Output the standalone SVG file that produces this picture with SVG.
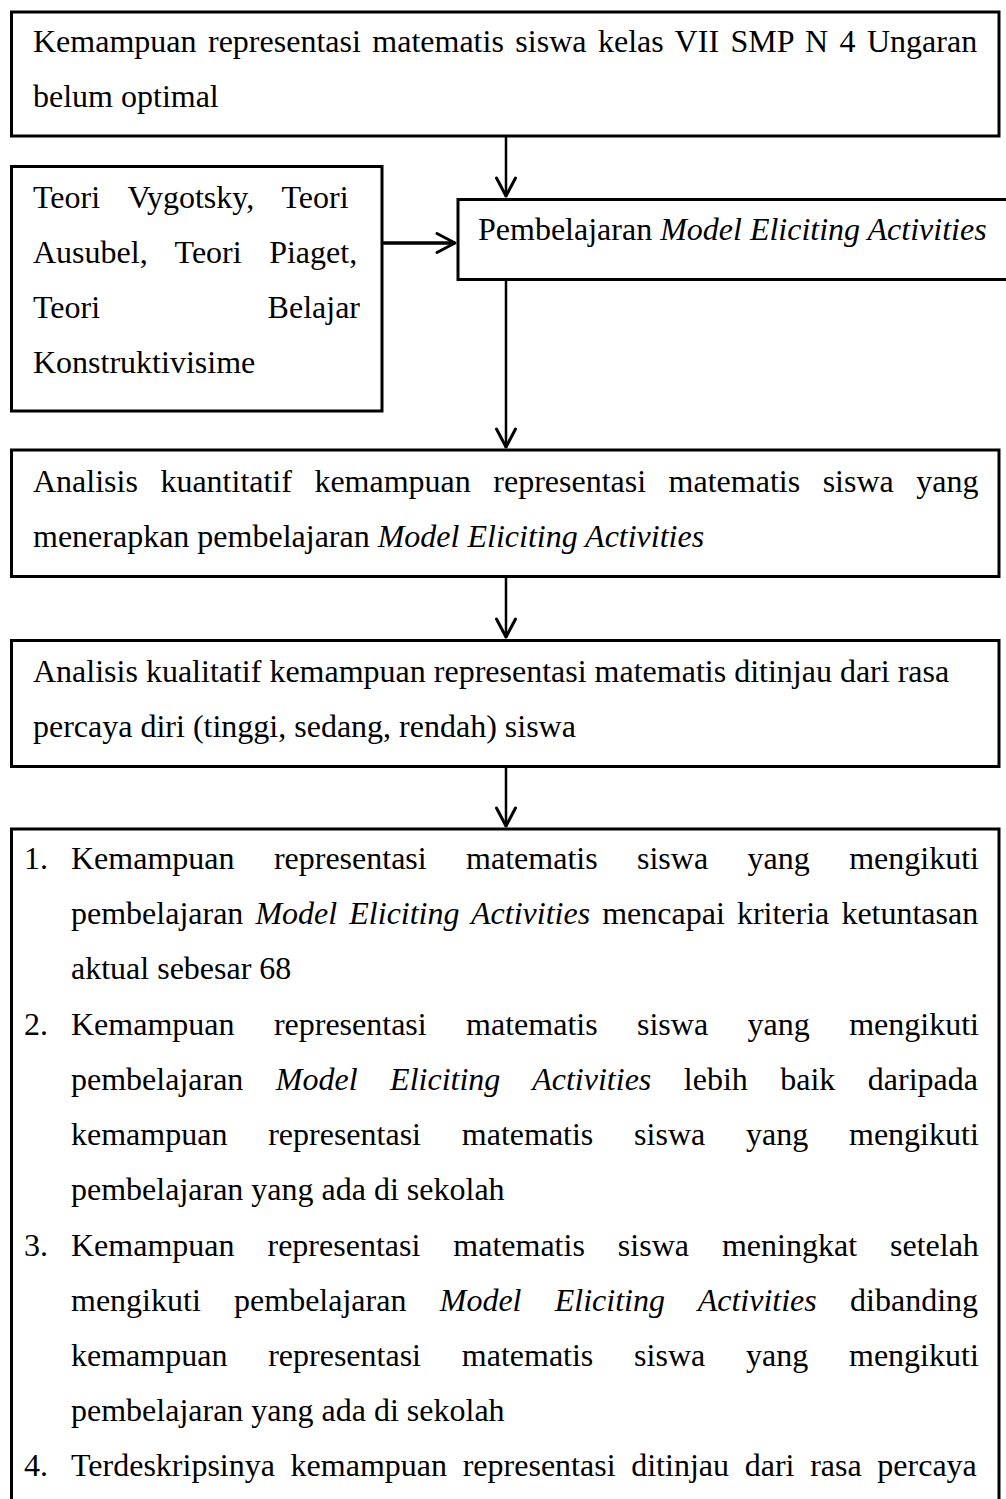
<svg xmlns="http://www.w3.org/2000/svg" width="1006" height="1499" viewBox="0 0 1006 1499">
<style>
.box{fill:#fff;stroke:#000;stroke-width:3}
.t{font-family:"Liberation Serif","Times New Roman",serif;font-size:32px;fill:#000}
.i{font-style:italic}
.c{stroke:#000;stroke-width:2.5;fill:none}
.h{stroke:#000;stroke-width:3;fill:none;stroke-linecap:round;stroke-linejoin:round}
</style>
<rect width="1006" height="1499" fill="#fff"/>
<g id="connectors">
<line class="c" x1="506" y1="137" x2="506" y2="197"/>
<polyline class="h" points="496.5,178 506,196 515.5,178"/>
<line class="c" x1="383" y1="243" x2="455" y2="243" style="stroke-width:3.5"/>
<polyline class="h" points="437,233.5 455,243 437,252.5"/>
<line class="c" x1="506" y1="280" x2="506" y2="448"/>
<polyline class="h" points="496.5,429 506,447 515.5,429"/>
<line class="c" x1="506" y1="577" x2="506" y2="638"/>
<polyline class="h" points="496.5,619 506,637 515.5,619"/>
<line class="c" x1="506" y1="767" x2="506" y2="827"/>
<polyline class="h" points="496.5,808 506,826 515.5,808"/>
</g>
<g id="n1">
<rect class="box" x="11.5" y="12" width="987.5" height="124"/>
<text class="t" x="33" y="52" style="word-spacing:3.5px">Kemampuan representasi matematis siswa kelas VII SMP N 4 Ungaran</text>
<text class="t" x="33" y="107">belum optimal</text>
</g>
<g id="n2">
<rect class="box" x="11.5" y="166.5" width="370.5" height="244.5"/>
<text class="t" x="33" y="208" style="word-spacing:19.9px">Teori Vygotsky, Teori</text>
<text class="t" x="33" y="263" style="word-spacing:19.5px">Ausubel, Teori Piaget,</text>
<text class="t" x="33" y="318">Teori</text>
<text class="t" x="360" y="318" text-anchor="end">Belajar</text>
<text class="t" x="33" y="373">Konstruktivisime</text>
</g>
<g id="n3">
<rect class="box" x="458" y="199.5" width="560" height="80"/>
<text class="t" x="478" y="240">Pembelajaran <tspan class="i">Model Eliciting Activities</tspan></text>
</g>
<g id="n4">
<rect class="box" x="11.5" y="450" width="987.5" height="126.5"/>
<text class="t" x="33" y="492" style="word-spacing:14.5px">Analisis kuantitatif kemampuan representasi matematis siswa yang</text>
<text class="t" x="33" y="547">menerapkan pembelajaran <tspan class="i">Model Eliciting Activities</tspan></text>
</g>
<g id="n5">
<rect class="box" x="11.5" y="640.5" width="987.5" height="126"/>
<text class="t" x="33" y="682">Analisis kualitatif kemampuan representasi matematis ditinjau dari rasa</text>
<text class="t" x="33" y="737">percaya diri (tinggi, sedang, rendah) siswa</text>
</g>
<g id="n6">
<rect class="box" x="11.5" y="829" width="987.5" height="700"/>
<text class="t" x="24" y="869">1.</text>
<text class="t" x="71" y="869" style="word-spacing:31.4px">Kemampuan representasi matematis siswa yang mengikuti</text>
<text class="t" x="71" y="924" style="word-spacing:4.1px">pembelajaran <tspan class="i">Model Eliciting Activities</tspan> mencapai kriteria ketuntasan</text>
<text class="t" x="71" y="979">aktual sebesar 68</text>
<text class="t" x="24" y="1035">2.</text>
<text class="t" x="71" y="1035" style="word-spacing:31.4px">Kemampuan representasi matematis siswa yang mengikuti</text>
<text class="t" x="71" y="1090" style="word-spacing:24.5px">pembelajaran <tspan class="i">Model Eliciting Activities</tspan> lebih baik daripada</text>
<text class="t" x="71" y="1145" style="word-spacing:32.8px">kemampuan representasi matematis siswa yang mengikuti</text>
<text class="t" x="71" y="1200">pembelajaran yang ada di sekolah</text>
<text class="t" x="24" y="1256">3.</text>
<text class="t" x="71" y="1256" style="word-spacing:25px">Kemampuan representasi matematis siswa meningkat setelah</text>
<text class="t" x="71" y="1311" style="word-spacing:25.3px">mengikuti pembelajaran <tspan class="i">Model Eliciting Activities</tspan> dibanding</text>
<text class="t" x="71" y="1366" style="word-spacing:32.8px">kemampuan representasi matematis siswa yang mengikuti</text>
<text class="t" x="71" y="1421">pembelajaran yang ada di sekolah</text>
<text class="t" x="24" y="1476">4.</text>
<text class="t" x="71" y="1476" style="word-spacing:7.7px">Terdeskripsinya kemampuan representasi ditinjau dari rasa percaya</text>
</g>
</svg>
